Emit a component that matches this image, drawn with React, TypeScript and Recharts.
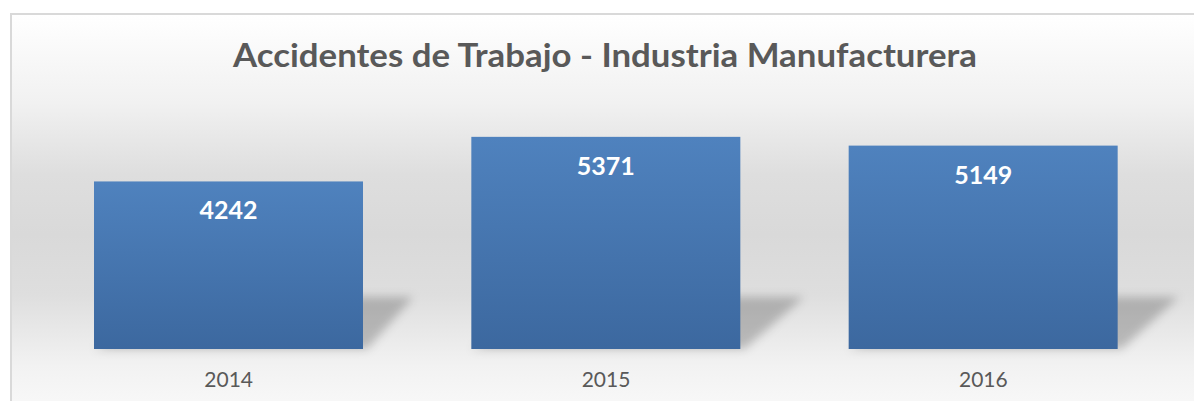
import React from "react";
import { BarChart, Bar, XAxis, YAxis, LabelList } from "recharts";

const categories = ["2014", "2015", "2016"];
const accidentes = [4242, 5371, 5149];
const titleText = "Accidentes de Trabajo - Industria Manufacturera";

const data = categories.map((c, i) => ({ year: c, value: accidentes[i] }));

const W = 1194;
const H = 401;

const BarShape = (props: any) => {
  const { x, y, width, height } = props;
  const bottom = y + height;
  const ext = height * 0.3;
  const pts = [
    [x + width * 0.4, bottom - 52],
    [x + width + ext, bottom - 52],
    [x + width + 4, bottom],
    [x, bottom],
  ]
    .map((p) => p.join(","))
    .join(" ");
  return (
    <g>
      <polygon points={pts} fill="#000" fillOpacity={0.22} filter="url(#shadowBlur)" />
      <rect x={x} y={y} width={width} height={height} fill="url(#barGrad)" />
    </g>
  );
};

const ValueLabel = (props: any) => {
  const { x, y, width, value } = props;
  return (
    <text
      x={x + width / 2}
      y={y + 38}
      textAnchor="middle"
      fill="#ffffff"
      fontFamily="Lato, 'Open Sans', sans-serif"
      fontWeight={700}
      fontSize={25}
    >
      {value}
    </text>
  );
};

const Tick = (props: any) => {
  const { x, payload } = props;
  return (
    <text
      x={x}
      y={387}
      textAnchor="middle"
      fill="#595959"
      fontFamily="Lato, 'Open Sans', sans-serif"
      fontSize={21}
    >
      {payload.value}
    </text>
  );
};

export default function App() {
  return (
    <div style={{ position: "absolute", left: 0, top: 0, width: W, height: H, overflow: "hidden", background: "#ffffff" }}>
      <div
        style={{
          position: "absolute",
          left: 10,
          top: 13,
          width: W,
          height: H,
          boxSizing: "border-box",
          borderTop: "2px solid #d9d9d9",
          borderLeft: "2px solid #d9d9d9",
          background:
            "linear-gradient(to bottom, #ffffff 0%, #f1f1f1 22%, #dedede 40%, #d9d9d9 55%, #dedede 70%, #f2f2f2 88%, #f9f9f9 100%)",
        }}
      />
      <svg width={W} height={H} style={{ position: "absolute", left: 0, top: 0 }}>
        <text
          x={605}
          y={67}
          textAnchor="middle"
          fill="#595959"
          fontFamily="Lato, 'Open Sans', sans-serif"
          fontWeight={700}
          fontSize={33}
          textLength={744}
          lengthAdjust="spacingAndGlyphs"
        >
          {titleText}
        </text>
      </svg>
      <div style={{ position: "absolute", left: 0, top: 0 }}>
        <BarChart
          width={W}
          height={H}
          data={data}
          margin={{ top: 112, right: 22, bottom: 22, left: 40 }}
          barCategoryGap={0}
        >
          <defs>
            <linearGradient id="barGrad" x1="0" y1="0" x2="0" y2="1">
              <stop offset="0%" stopColor="#4f82be" />
              <stop offset="100%" stopColor="#3c689f" />
            </linearGradient>
            <filter id="shadowBlur" x="-20%" y="-50%" width="140%" height="200%">
              <feGaussianBlur stdDeviation="5" />
            </filter>
          </defs>
          <XAxis dataKey="year" axisLine={false} tickLine={false} height={30} tick={<Tick />} />
          <YAxis hide domain={[0, 6000]} width={0} />
          <Bar dataKey="value" barSize={269} isAnimationActive={false} shape={<BarShape />}>
            <LabelList dataKey="value" content={<ValueLabel />} />
          </Bar>
        </BarChart>
      </div>
    </div>
  );
}
